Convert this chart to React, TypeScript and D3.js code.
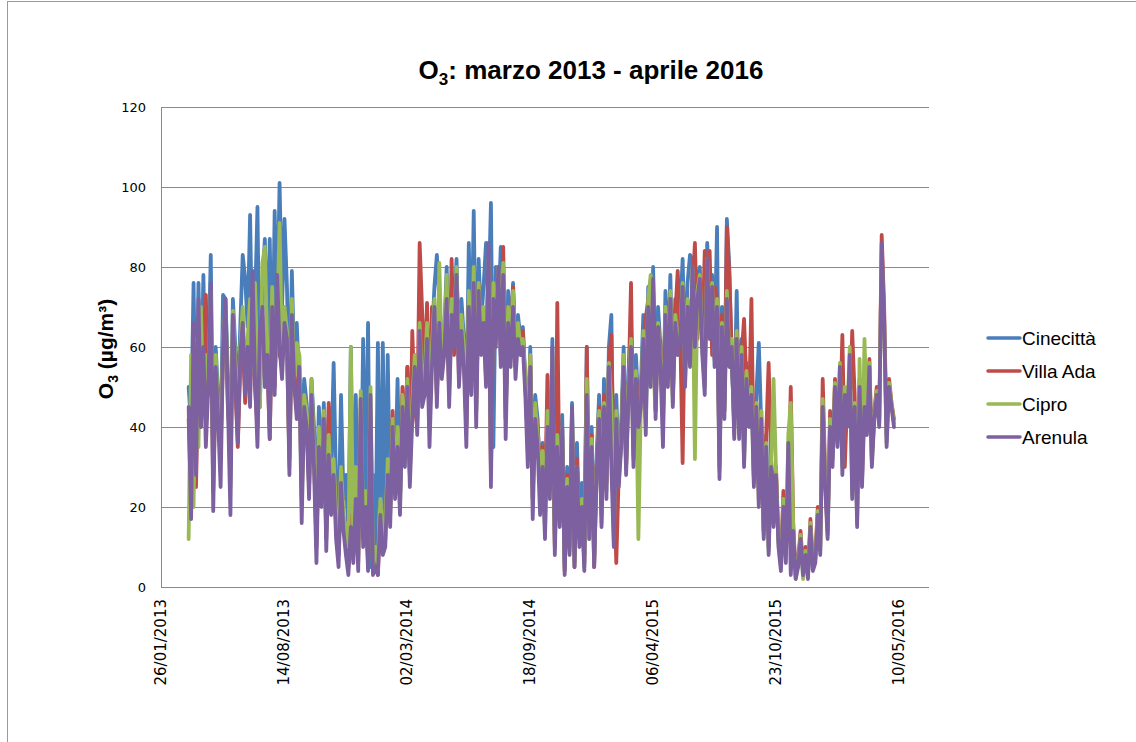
import { useEffect, useRef } from 'react';
import * as d3 from 'd3';

// O3 daily means, sampled every 4 days starting on firstDay
const firstDay = '12/03/2013';
const stepDays = 4;
const axisStart = '26/01/2013';
const axisEnd = '29/06/2016';

const seriesNames = ['Cinecittà', 'Villa Ada', 'Cipro', 'Arenula'];
const seriesColors = ['#4a7ebb', '#be4b48', '#98b954', '#7d60a0'];

const yTicks = [0, 20, 40, 60, 80, 100, 120];
const xTickLabels = ['26/01/2013', '14/08/2013', '02/03/2014', '18/09/2014', '06/04/2015', '23/10/2015', '10/05/2016'];

const cinecitta = [
  50, 40, 76, 35, 76, 45, 78, 42,
  55, 83, 30, 60, 48, 35, 73, 72,
  52, 30, 72, 60, 45, 65, 83, 77,
  65, 93, 55, 70, 95, 45, 75, 87,
  60, 87, 50, 94, 66, 101, 70, 92,
  75, 45, 79, 55, 66, 50, 38, 52,
  46, 30, 52, 40, 20, 45, 28, 46,
  20, 45, 30, 56, 25, 15, 48, 22,
  28, 12, 60, 10, 48, 20, 15, 62,
  20, 66, 5, 28, 6, 61, 10, 61,
  15, 58, 20, 42, 25, 52, 22, 48,
  35, 55, 30, 46, 58, 42, 62, 50,
  55, 68, 42, 62, 75, 83, 72, 60,
  64, 80, 52, 74, 68, 82, 56, 72,
  62, 45, 86, 55, 94, 48, 82, 66,
  75, 86, 70, 96, 35, 80, 68, 85,
  80, 45, 74, 62, 76, 58, 68, 62,
  65, 52, 36, 60, 25, 48, 42, 24,
  36, 18, 46, 28, 62, 12, 40, 22,
  43, 6, 30, 12, 46, 8, 36, 14,
  26, 8, 60, 15, 40, 8, 32, 48,
  20, 52, 28, 60, 68, 14, 48, 30,
  40, 60, 32, 54, 66, 35, 58, 45,
  50, 68, 42, 75, 55, 80, 48, 70,
  60, 40, 74, 56, 78, 50, 72, 62,
  68, 82, 56, 76, 83, 82, 66, 78,
  80, 62, 52, 86, 68, 78, 60, 90,
  30, 70, 46, 92, 80, 55, 42, 74,
  40, 62, 34, 56, 44, 52, 28, 48,
  61, 40, 14, 38, 10, 32, 18, 30,
];

const villaAda = [
  42, 20, 64, 25, 55, 40, 58, 73,
  48, 70, 24, 52, 40, 36, 58, 66,
  44, 36, 64, 50, 35, 55, 62, 46,
  58, 48, 72, 50, 40, 62, 68, 52,
  56, 37, 68, 50, 75, 58, 56, 64,
  60, 32, 63, 52, 45, 58, 22, 48,
  42, 25, 50, 34, 10, 38, 24, 40,
  12, 46, 20, 32, 15, 8, 30, 16,
  10, 5, 18, 8, 25, 6, 40, 12,
  22, 6, 42, 4, 8, 3, 20, 10,
  12, 32, 18, 44, 26, 40, 22, 50,
  35, 55, 28, 64, 45, 40, 86, 69,
  52, 71, 40, 70, 62, 48, 66, 58,
  62, 70, 48, 82, 58, 75, 52, 66,
  58, 40, 72, 52, 78, 44, 76, 62,
  68, 52, 80, 28, 74, 62, 78, 58,
  85, 42, 70, 58, 75, 55, 66, 60,
  64, 50, 38, 58, 22, 45, 40, 30,
  35, 20, 53, 26, 44, 10, 71, 18,
  38, 4, 28, 10, 42, 5, 32, 12,
  22, 6, 60, 14, 38, 5, 30, 45,
  18, 48, 26, 56, 63, 30, 6, 28,
  38, 56, 30, 50, 76, 33, 54, 42,
  48, 60, 67, 72, 52, 74, 44, 66,
  58, 52, 66, 52, 72, 48, 68, 79,
  65, 31, 72, 60, 58, 74, 86, 62,
  78, 60, 84, 66, 84, 58, 75, 72,
  32, 68, 44, 90, 78, 58, 40, 64,
  42, 58, 67, 50, 44, 72, 27, 46,
  24, 44, 14, 38, 56, 32, 16, 30,
  12, 6, 24, 8, 22, 50, 16, 3,
  7, 14, 4, 10, 3, 17, 6, 8,
  20, 10, 52, 28, 14, 44, 34, 52,
  38, 40, 63, 30, 48, 42, 64, 48,
  18, 52, 27, 48, 40, 57, 32, 44,
  50, 42, 88, 70, 38, 52, 46, 42,
];

const cipro = [
  12, 58, 20, 62, 35, 70, 44, 58,
  52, 74, 28, 58, 45, 32, 62, 70,
  48, 25, 69, 56, 40, 60, 70, 52,
  62, 72, 54, 76, 55, 45, 81, 85,
  60, 42, 75, 52, 66, 91, 58, 70,
  64, 30, 72, 52, 61, 58, 20, 48,
  44, 25, 52, 34, 12, 40, 24, 44,
  14, 38, 24, 32, 18, 10, 30, 18,
  14, 10, 60, 10, 30, 8, 49, 14,
  24, 8, 50, 5, 10, 6, 22, 12,
  14, 32, 20, 42, 26, 40, 20, 48,
  34, 52, 28, 46, 58, 40, 66, 50,
  52, 66, 40, 60, 72, 48, 81, 56,
  62, 78, 50, 72, 64, 80, 56, 68,
  60, 40, 74, 52, 80, 44, 76, 62,
  70, 58, 82, 30, 76, 64, 80, 60,
  81, 42, 70, 60, 74, 56, 66, 60,
  62, 52, 34, 58, 22, 46, 38, 28,
  34, 14, 44, 24, 58, 10, 38, 16,
  40, 5, 27, 9, 44, 6, 30, 11,
  22, 5, 52, 12, 37, 6, 28, 44,
  16, 46, 24, 56, 46, 12, 44, 26,
  36, 58, 30, 50, 62, 32, 54, 12,
  46, 64, 40, 72, 78, 56, 44, 66,
  56, 42, 70, 52, 74, 46, 68, 60,
  64, 76, 52, 72, 56, 80, 32, 74,
  78, 60, 50, 82, 64, 76, 57, 72,
  29, 66, 44, 74, 58, 62, 38, 64,
  38, 60, 31, 54, 42, 50, 26, 46,
  21, 44, 13, 36, 9, 31, 52, 29,
  11, 5, 22, 7, 38, 46, 15, 2,
  6, 13, 2, 9, 3, 16, 5, 7,
  19, 9, 47, 27, 13, 42, 32, 51,
  36, 56, 30, 50, 42, 60, 23, 46,
  16, 57, 26, 62, 39, 56, 31, 43,
  49, 41, 84, 66, 36, 51, 46, 41,
];

const arenula = [
  45, 17, 66, 28, 72, 40, 60, 35,
  50, 76, 19, 55, 42, 25, 60, 72,
  45, 18, 68, 52, 36, 58, 66, 48,
  60, 45, 79, 52, 35, 64, 70, 50,
  58, 37, 70, 48, 78, 60, 52, 66,
  62, 28, 68, 50, 42, 55, 16, 45,
  40, 22, 48, 30, 6, 35, 20, 42,
  9, 33, 18, 28, 12, 5, 26, 14,
  8, 3, 15, 6, 22, 4, 47, 10,
  20, 4, 48, 3, 5, 3, 18, 8,
  10, 28, 15, 40, 22, 35, 18, 45,
  30, 50, 25, 42, 55, 38, 64, 45,
  48, 62, 35, 55, 70, 45, 66, 52,
  58, 72, 45, 68, 60, 78, 50, 64,
  55, 35, 70, 48, 76, 40, 74, 58,
  66, 50, 86, 25, 72, 60, 80, 55,
  78, 37, 66, 55, 70, 52, 62, 58,
  60, 48, 30, 55, 17, 42, 35, 18,
  30, 12, 40, 22, 60, 8, 35, 15,
  40, 3, 25, 8, 45, 5, 30, 10,
  20, 4, 48, 12, 35, 5, 28, 42,
  15, 45, 22, 55, 30, 10, 42, 25,
  35, 55, 28, 48, 60, 30, 52, 40,
  45, 62, 38, 70, 50, 77, 42, 65,
  55, 35, 68, 50, 72, 45, 66, 58,
  62, 75, 50, 70, 55, 80, 60, 72,
  77, 58, 48, 82, 62, 75, 55, 70,
  27, 65, 42, 72, 55, 60, 37, 62,
  37, 58, 30, 52, 40, 48, 25, 45,
  20, 42, 12, 35, 8, 30, 15, 28,
  10, 4, 20, 6, 36, 3, 14, 2,
  5, 12, 3, 8, 2, 15, 4, 6,
  18, 8, 45, 25, 12, 40, 30, 50,
  35, 55, 28, 48, 40, 58, 22, 45,
  15, 50, 25, 45, 38, 55, 30, 42,
  48, 40, 86, 67, 35, 50, 45, 40,
];

const allSeries = [cinecitta, villaAda, cipro, arenula];

const WIDTH = 1136;
const HEIGHT = 742;
const plot = { left: 161, right: 929, top: 107, bottom: 587 };

export default function App() {
  const svgRef = useRef<SVGSVGElement>(null);

  useEffect(() => {
    if (!svgRef.current) return;
    const svg = d3.select(svgRef.current);
    svg.selectAll('*').remove();

    const parse = d3.timeParse('%d/%m/%Y');
    const start = parse(firstDay) as Date;

    const x = d3
      .scaleTime()
      .domain([parse(axisStart) as Date, parse(axisEnd) as Date])
      .range([plot.left, plot.right]);

    const y = d3.scaleLinear().domain([0, 120]).range([plot.bottom, plot.top]);

    // chart border
    svg.append('rect')
      .attr('x', 7.5)
      .attr('y', 1.5)
      .attr('width', WIDTH + 10)
      .attr('height', HEIGHT + 10)
      .attr('fill', 'none')
      .attr('stroke', '#9a9a9a');

    // gridlines
    svg.append('g')
      .selectAll('line')
      .data(yTicks.slice(1))
      .join('line')
      .attr('x1', plot.left)
      .attr('x2', plot.right)
      .attr('y1', (d) => Math.round(y(d)) + 0.5)
      .attr('y2', (d) => Math.round(y(d)) + 0.5)
      .attr('stroke', '#8a8a8a');

    // axes lines
    svg.append('line')
      .attr('x1', plot.left + 0.5).attr('x2', plot.left + 0.5)
      .attr('y1', plot.top).attr('y2', plot.bottom)
      .attr('stroke', '#8a8a8a');
    svg.append('line')
      .attr('x1', plot.left).attr('x2', plot.right)
      .attr('y1', plot.bottom + 0.5).attr('y2', plot.bottom + 0.5)
      .attr('stroke', '#8a8a8a');

    // y tick labels
    svg.append('g')
      .selectAll('text')
      .data(yTicks)
      .join('text')
      .attr('x', 146)
      .attr('y', (d) => y(d))
      .attr('dy', '0.35em')
      .attr('text-anchor', 'end')
      .attr('font-family', 'DejaVu Sans')
      .attr('font-size', 13)
      .attr('fill', '#000')
      .text((d) => d);

    // x tick labels
    svg.append('g')
      .selectAll('text')
      .data(xTickLabels)
      .join('text')
      .attr('transform', (d) => `translate(${x(parse(d) as Date)},599) rotate(-90)`)
      .attr('dy', '0.36em')
      .attr('text-anchor', 'end')
      .attr('font-family', 'DejaVu Sans')
      .attr('font-size', 15)
      .attr('fill', '#000')
      .text((d) => d);

    // series
    const line = d3
      .line<number>()
      .x((_, i) => x(d3.timeDay.offset(start, i * stepDays)))
      .y((d) => y(d))
      .curve(d3.curveLinear);

    allSeries.forEach((values, s) => {
      svg.append('path')
        .datum(values)
        .attr('fill', 'none')
        .attr('stroke', seriesColors[s])
        .attr('stroke-width', 3.8)
        .attr('stroke-linejoin', 'round')
        .attr('stroke-linecap', 'round')
        .attr('d', line);
    });

    // title
    const title = svg.append('text')
      .attr('x', 591)
      .attr('y', 79)
      .attr('text-anchor', 'middle')
      .attr('font-family', 'Liberation Sans, Arial, sans-serif')
      .attr('font-weight', 'bold')
      .attr('font-size', 26)
      .attr('fill', '#000');
    title.append('tspan').text('O');
    title.append('tspan').attr('font-size', 17).attr('dy', 6).text('3');
    title.append('tspan').attr('dy', -6).text(': marzo 2013 - aprile 2016');

    // y axis title
    const yTitle = svg.append('text')
      .attr('transform', 'translate(113,349) rotate(-90)')
      .attr('text-anchor', 'middle')
      .attr('font-family', 'Liberation Sans, Arial, sans-serif')
      .attr('font-weight', 'bold')
      .attr('font-size', 21)
      .attr('fill', '#000');
    yTitle.append('tspan').text('O');
    yTitle.append('tspan').attr('font-size', 14).attr('dy', 5).text('3');
    yTitle.append('tspan').attr('dy', -5).text(' (µg/m³)');

    // legend
    const legend = svg.append('g')
      .selectAll('g')
      .data(seriesNames)
      .join('g')
      .attr('transform', (_, i) => `translate(988,${338 + i * 33})`);
    legend.append('line')
      .attr('x1', 0).attr('x2', 32)
      .attr('stroke', (_, i) => seriesColors[i])
      .attr('stroke-width', 3.5)
      .attr('stroke-linecap', 'round');
    legend.append('text')
      .attr('x', 34)
      .attr('dy', '0.35em')
      .attr('font-family', 'Liberation Sans, Arial, sans-serif')
      .attr('font-size', 19)
      .attr('fill', '#000')
      .text((d) => d);
  }, []);

  return (
    <div style={{ position: 'absolute', left: 0, top: 0, width: WIDTH, height: HEIGHT, background: '#fff' }}>
      <svg ref={svgRef} width={WIDTH} height={HEIGHT} style={{ display: 'block' }} />
    </div>
  );
}
